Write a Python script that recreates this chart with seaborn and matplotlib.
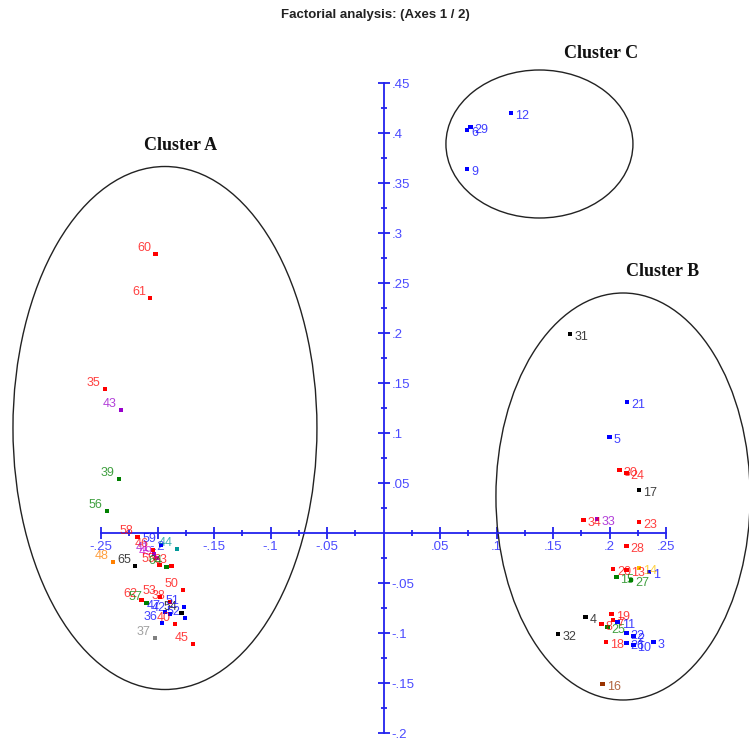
import matplotlib
matplotlib.use("Agg")
import matplotlib.pyplot as plt
from matplotlib.patches import Ellipse
from matplotlib.ticker import FixedLocator, FixedFormatter
import seaborn as sns
import pandas as pd

# ---------------- data ----------------
labels = ["6", "29", "9", "12",
          "31", "21", "5", "30", "24", "17", "34", "33", "23", "28",
          "20", "13", "14", "1", "15", "27",
          "4", "19", "8", "25", "11", "7", "22", "2", "18", "26", "10", "3", "32", "16",
          "60", "61", "35", "43", "39", "56",
          "58", "59", "44", "48", "65", "46", "41", "49", "55", "63", "64",
          "50", "62", "53", "38", "57", "47", "42", "54", "51", "52", "36", "40", "37", "45"]
axis1 = [0.074, 0.077, 0.074, 0.113,
         0.165, 0.2155, 0.200, 0.209, 0.215, 0.226, 0.177, 0.189, 0.226, 0.215,
         0.203, 0.215, 0.226, 0.235, 0.206, 0.219,
         0.179, 0.202, 0.193, 0.198, 0.207, 0.203, 0.215, 0.221, 0.197, 0.215, 0.221, 0.239, 0.1545, 0.194,
         -0.202, -0.2066, -0.2465, -0.2323, -0.234, -0.2447,
         -0.2177, -0.197, -0.1827, -0.2394, -0.2199, -0.204, -0.203, -0.201, -0.198, -0.1875, -0.192,
         -0.1774, -0.214, -0.1978, -0.189, -0.2096, -0.1933, -0.1889, -0.1786, -0.1765, -0.1757, -0.196, -0.1845, -0.2022, -0.1686]
axis2 = [0.403, 0.406, 0.364, 0.420,
         0.199, 0.131, 0.096, 0.063, 0.060, 0.043, 0.013, 0.014, 0.011, -0.013,
         -0.036, -0.037, -0.035, -0.039, -0.044, -0.047,
         -0.084, -0.081, -0.091, -0.094, -0.089, -0.087, -0.100, -0.103, -0.109, -0.110, -0.112, -0.109, -0.101, -0.151,
         0.279, 0.235, 0.144, 0.123, 0.054, 0.022,
         -0.004, -0.012, -0.016, -0.029, -0.033, -0.017, -0.021, -0.025, -0.032, -0.033, -0.034,
         -0.057, -0.067, -0.064, -0.069, -0.070, -0.079, -0.081, -0.080, -0.074, -0.085, -0.090, -0.091, -0.105, -0.111]
klass = ["K2", "K2", "K2", "K2",
         "K4", "K2", "K2", "K1", "K1", "K4", "K1", "K5", "K1", "K1",
         "K1", "K1", "K10", "K2", "K3", "K3",
         "K4", "K1", "K1", "K3", "K2", "K1", "K2", "K2", "K1", "K2", "K2", "K2", "K4", "K9",
         "K1", "K1", "K1", "K5", "K3", "K3",
         "K1", "K2", "K7", "K6", "K4", "K1", "K5", "K11", "K1", "K1", "K3",
         "K1", "K1", "K1", "K1", "K3", "K2", "K2", "K4", "K2", "K2", "K2", "K1", "K8", "K1"]
palette = {"K1": "#ff0000", "K2": "#0000ff", "K3": "#008000", "K4": "#000000",
           "K5": "#9900cc", "K6": "#ff8000", "K7": "#009999", "K8": "#808080",
           "K9": "#993300", "K10": "#ffc000", "K11": "#cc00cc"}

xticks = [-0.25, -0.2, -0.15, -0.1, -0.05, 0.05, 0.1, 0.15, 0.2, 0.25]
xtick_labels = ["-.25", "-.2", "-.15", "-.1", "-.05", ".05", ".1", ".15", ".2", ".25"]
yticks = [0.45, 0.4, 0.35, 0.3, 0.25, 0.2, 0.15, 0.1, 0.05, -0.05, -0.1, -0.15, -0.2]
ytick_labels = [".45", ".4", ".35", ".3", ".25", ".2", ".15", ".1", ".05", "-.05", "-.1", "-.15", "-.2"]

cluster_names = ["Cluster A", "Cluster B", "Cluster C"]
cluster_cx = [-0.1934, 0.212, 0.138]
cluster_cy = [0.105, 0.0365, 0.389]
cluster_w = [0.269, 0.225, 0.1655]
cluster_h = [0.523, 0.407, 0.148]

title = "Factorial analysis: (Axes 1 / 2)"

df = pd.DataFrame({"label": labels, "F1": axis1, "F2": axis2, "klass": klass})

# ---------------- figure ----------------
sns.set_style("white")
plt.rcParams["font.family"] = ["Liberation Sans", "DejaVu Sans"]

W, H = 749, 742
fig = plt.figure(figsize=(W / 100, H / 100), dpi=100)
ax = fig.add_axes([0, 0, 1, 1])
ax.set_xlim((0 - 383.5) / 1130, (W - 383.5) / 1130)
ax.set_ylim((533 - H) / 1000, 533 / 1000)

sns.scatterplot(data=df, x="F1", y="F2", hue="klass", palette=palette,
                marker="s", s=11, linewidth=0, legend=False, ax=ax, zorder=3)

for lab, x, y, k in zip(labels, axis1, axis2, klass):
    c = palette[k]
    if x < 0:
        ax.annotate(lab, (x, y), xytext=(-3, 4), textcoords="offset points",
                    ha="right", va="center", fontsize=9, color=c, alpha=0.75, zorder=4)
    else:
        ax.annotate(lab, (x, y), xytext=(3, -2), textcoords="offset points",
                    ha="left", va="center", fontsize=9, color=c, alpha=0.75, zorder=4)

for cx, cy, w, h in zip(cluster_cx, cluster_cy, cluster_w, cluster_h):
    ax.add_patch(Ellipse((cx, cy), w, h, fill=False, edgecolor="#222222", lw=1.0, zorder=2))

axis_col = "#2222ee"
lab_col = "#4a4aff"
for s in ["top", "left"]:
    ax.spines[s].set_visible(False)
ax.spines["right"].set_position(("data", 0))
ax.spines["bottom"].set_position(("data", 0))
ax.spines["right"].set_bounds(-0.2, 0.45)
ax.spines["bottom"].set_bounds(-0.25, 0.25)
for s in ["right", "bottom"]:
    ax.spines[s].set_color(axis_col)
    ax.spines[s].set_linewidth(1.3)
    ax.spines[s].set_visible(True)

ax.yaxis.set_ticks_position("right")
ax.xaxis.set_ticks_position("bottom")
ax.xaxis.set_major_locator(FixedLocator(xticks))
ax.xaxis.set_major_formatter(FixedFormatter(xtick_labels))
ax.yaxis.set_major_locator(FixedLocator(yticks))
ax.yaxis.set_major_formatter(FixedFormatter(ytick_labels))
minor_x = [v / 1000 for v in range(-225, 250, 50)]
minor_y = [v / 1000 for v in range(-175, 450, 50)]
ax.xaxis.set_minor_locator(FixedLocator(minor_x))
ax.yaxis.set_minor_locator(FixedLocator(minor_y))
ax.tick_params(which="major", direction="inout", length=9, width=1.3, color=axis_col,
               labelcolor=lab_col, labelsize=9.5, pad=1.5)
ax.tick_params(which="minor", direction="inout", length=5, width=1.3, color=axis_col)
ax.set_xlabel("")
ax.set_ylabel("")

fig.text(375 / W, 1 - 15 / H, title, ha="center", va="center",
         fontsize=9.5, fontweight="bold", color="#222222")
for name, (px, py) in zip(cluster_names, [(181, 145), (663, 272), (601, 53)]):
    fig.text(px / W, 1 - py / H, name, ha="center", va="center", fontsize=13,
             fontweight="bold", family=["Liberation Serif", "DejaVu Serif"], color="#111111")

fig.savefig("out.png", dpi=100)
